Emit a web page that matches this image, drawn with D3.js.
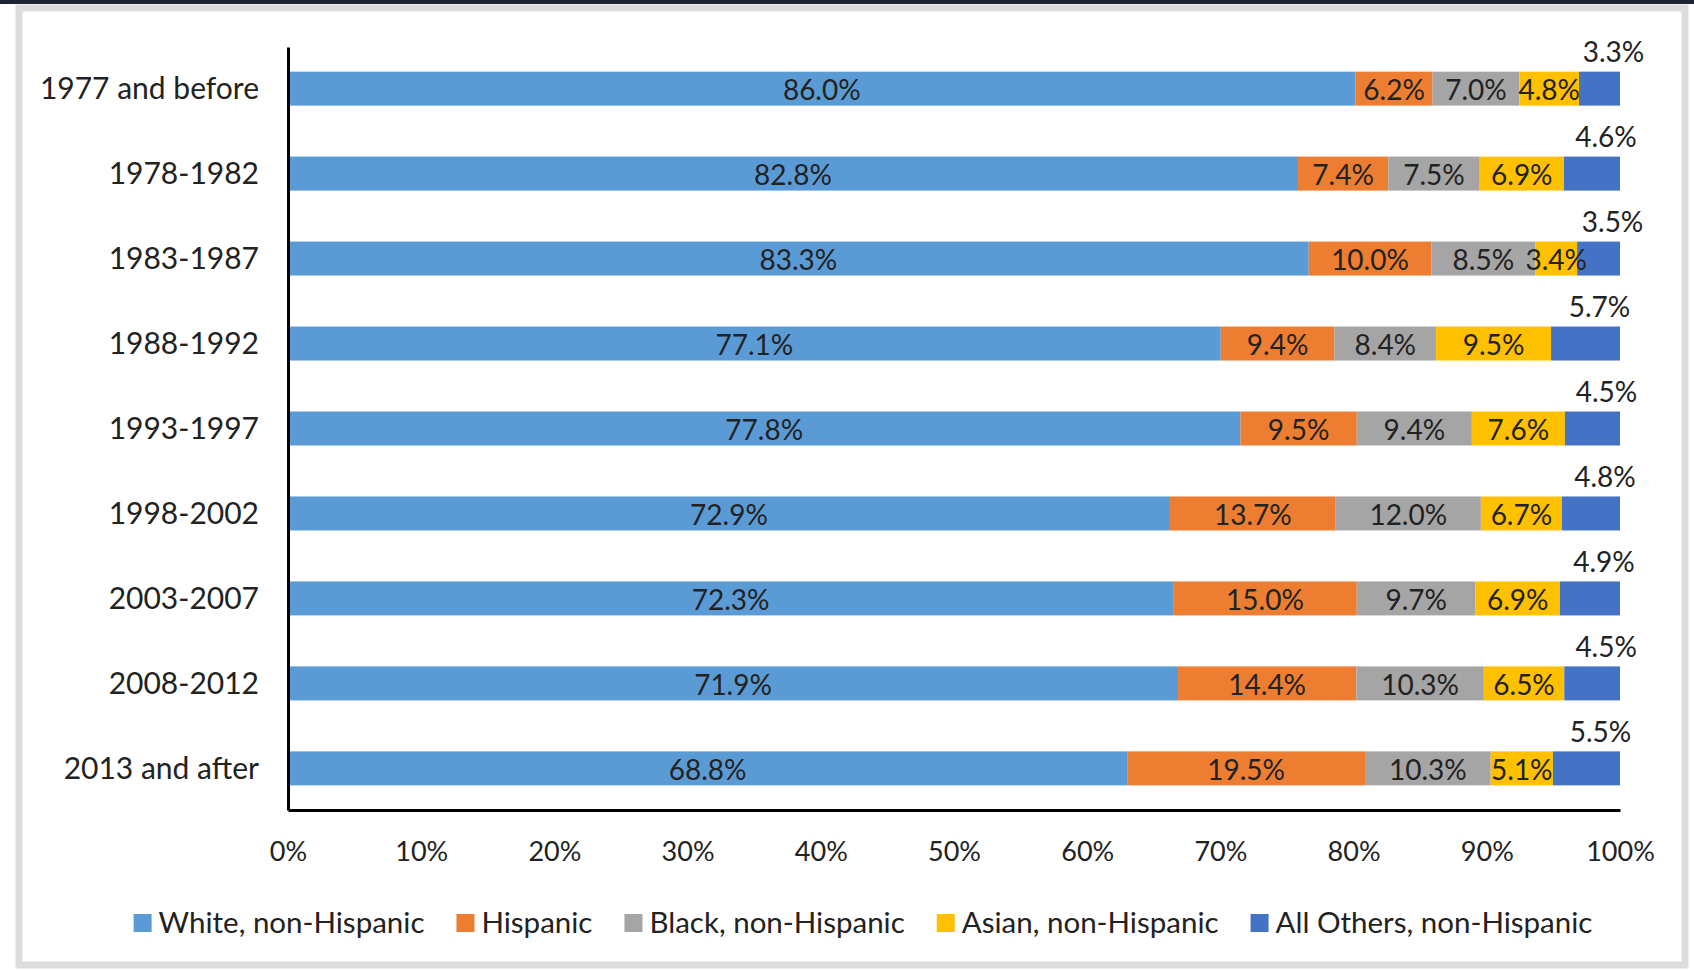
<!DOCTYPE html>
<html>
<head>
<meta charset="utf-8">
<script src="https://cdn.jsdelivr.net/npm/d3@7"></script>
<style>
  html, body { margin: 0; padding: 0; background: #ffffff; }
  svg { display: block; }
  text { font-family: Lato, "Open Sans", sans-serif; fill: #222; }
</style>
</head>
<body>
<svg id="chart" width="1694" height="971"></svg>
<script>
const categories = ["1977 and before","1978-1982","1983-1987","1988-1992","1993-1997","1998-2002","2003-2007","2008-2012","2013 and after"];
const seriesNames = ["White, non-Hispanic","Hispanic","Black, non-Hispanic","Asian, non-Hispanic","All Others, non-Hispanic"];
const white    = [86.0, 82.8, 83.3, 77.1, 77.8, 72.9, 72.3, 71.9, 68.8];
const hispanic = [6.2, 7.4, 10.0, 9.4, 9.5, 13.7, 15.0, 14.4, 19.5];
const black    = [7.0, 7.5, 8.5, 8.4, 9.4, 12.0, 9.7, 10.3, 10.3];
const asian    = [4.8, 6.9, 3.4, 9.5, 7.6, 6.7, 6.9, 6.5, 5.1];
const others   = [3.3, 4.6, 3.5, 5.7, 4.5, 4.8, 4.9, 4.5, 5.5];
const colors   = ["#5B9BD5", "#ED7D31", "#A5A5A5", "#FFC000", "#4472C4"];
const xTicks   = [0, 0.1, 0.2, 0.3, 0.4, 0.5, 0.6, 0.7, 0.8, 0.9, 1.0];

const seriesValues = [white, hispanic, black, asian, others];
const rows = categories.map((c, i) => {
  const r = { category: c };
  seriesNames.forEach((s, j) => { r[s] = seriesValues[j][i]; });
  return r;
});

const svg = d3.select("#chart");

// frame
svg.append("rect").attr("x", 19).attr("y", 8).attr("width", 1666).attr("height", 957)
  .attr("fill", "#ffffff").attr("stroke", "#dcdcdc").attr("stroke-width", 7);
svg.append("rect").attr("x", 0).attr("y", 0).attr("width", 1694).attr("height", 4)
  .attr("fill", "#1b2430");

const x = d3.scaleLinear().domain([0, 1]).range([288, 1620]);
const y = d3.scaleBand().domain(categories).range([47, 810]).paddingInner(0.6).paddingOuter(0.29);

const stack = d3.stack().keys(seriesNames).offset(d3.stackOffsetExpand);
const stacked = stack(rows);

const g = svg.append("g");
stacked.forEach((layer, li) => {
  const lg = g.append("g");
  lg.selectAll("rect").data(layer).enter().append("rect")
    .attr("x", d => x(d[0]))
    .attr("y", d => y(d.data.category))
    .attr("width", d => x(d[1]) - x(d[0]))
    .attr("height", y.bandwidth())
    .attr("fill", colors[li]);
});

// labels
stacked.forEach((layer, li) => {
  const last = li === stacked.length - 1;
  g.append("g").selectAll("text").data(layer).enter().append("text")
    .attr("x", d => (x(d[0]) + x(d[1])) / 2 + (last ? 14 : 0))
    .attr("y", d => y(d.data.category) + y.bandwidth() / 2 + (last ? -38 : 0))
    .attr("dy", "0.42em")
    .attr("text-anchor", "middle")
    .style("font-size", "28px")
    .text(d => d.data[layer.key].toFixed(1) + "%");
});

// axes
const yAxis = d3.axisLeft(y).tickSize(0).tickPadding(29);
const yg = svg.append("g").attr("transform", "translate(288,0)").call(yAxis);
yg.select(".domain").attr("stroke", "#000").attr("stroke-width", 3);
yg.selectAll("text").style("font-size", "30px").style("font-family", "Lato").attr("fill", "#222").attr("dy", "0.36em");

const xAxis = d3.axisBottom(x).tickValues(xTicks).tickFormat(d3.format(".0%")).tickSize(0);
const xg = svg.append("g").attr("transform", "translate(0,810)").call(xAxis);
xg.select(".domain").attr("stroke", "#000").attr("stroke-width", 3);
xg.selectAll("text").attr("y", 51).attr("dy", null)
  .style("font-size", "27px").style("font-family", "Lato").attr("fill", "#222");

// legend
const legend = svg.append("g");
const items = legend.selectAll("g").data(seriesNames).enter().append("g");
items.append("rect").attr("width", 18).attr("height", 18).attr("y", -9)
  .attr("fill", (d, i) => colors[i]);
items.append("text").attr("x", 25).attr("dy", "0.35em")
  .style("font-size", "29.5px").text(d => d);
let cx = 0;
items.each(function () {
  const w = this.getBBox().width;
  d3.select(this).attr("data-x", cx);
  cx += w + 32;
});
const total = cx - 32;
const startX = 863 - total / 2;
items.attr("transform", function () { return `translate(${startX + (+this.getAttribute("data-x"))},923)`; });
</script>
</body>
</html>
